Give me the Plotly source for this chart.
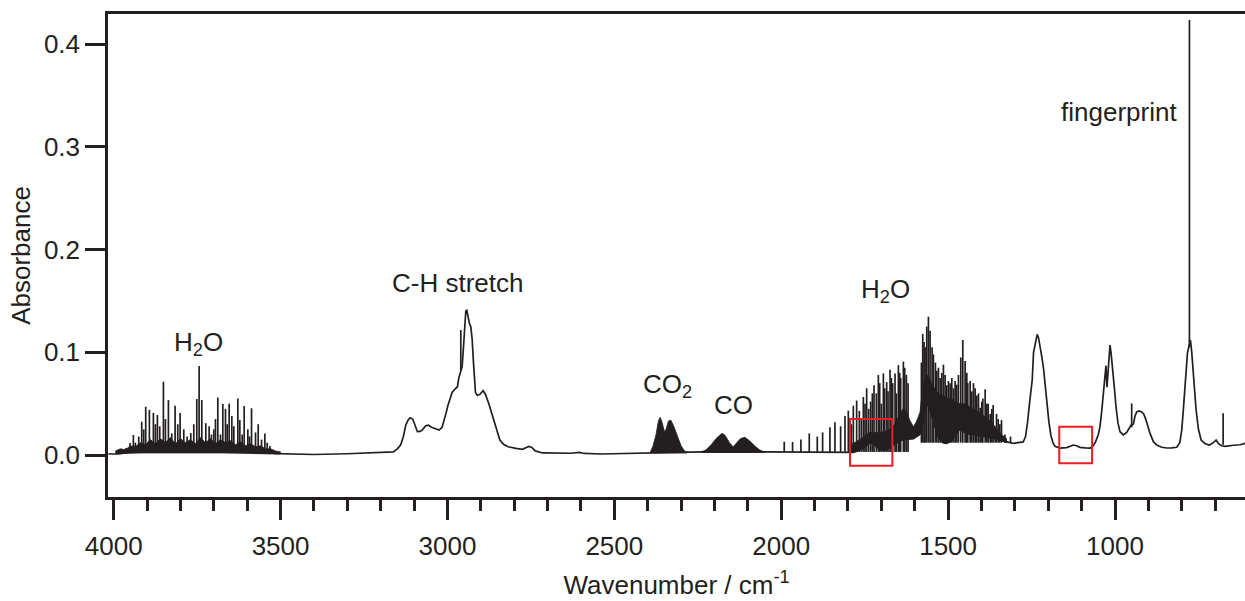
import plotly.graph_objects as go

# ---------------- data ----------------
# continuum / smooth spectrum, split by region
oh_wn = [4016, 3995, 3960, 3900, 3800, 3700, 3600, 3520, 3450, 3400, 3300, 3200]
oh_abs = [0.001, 0.001, 0.002, 0.003, 0.003, 0.003, 0.002, 0.0015, 0.001, 0.0005, 0.0012, 0.002]

ch_wn = [3162, 3150, 3140, 3132, 3125, 3118, 3112, 3104, 3097, 3090,
         3082, 3075, 3065, 3057, 3048, 3040, 3025, 3016, 3010, 3004,
         2999, 2992, 2986, 2978, 2970, 2966, 2962, 2956, 2952, 2948,
         2945, 2942, 2938, 2934, 2930, 2926, 2922, 2919, 2916, 2910,
         2903, 2893, 2886, 2876, 2867, 2858, 2850, 2843, 2832, 2818,
         2795, 2775, 2765, 2756, 2747, 2737]
ch_abs = [0.003, 0.006, 0.010, 0.018, 0.029, 0.034, 0.0363, 0.035, 0.028, 0.0227,
          0.023, 0.0245, 0.0285, 0.029, 0.027, 0.026, 0.0243, 0.027, 0.033, 0.041,
          0.0477, 0.056, 0.061, 0.064, 0.0665, 0.075, 0.080, 0.086, 0.105, 0.130,
          0.1402, 0.141, 0.132, 0.128, 0.125, 0.113, 0.090, 0.068, 0.061, 0.058,
          0.059, 0.0626, 0.059, 0.050, 0.0406, 0.030, 0.021, 0.0146, 0.0105, 0.008,
          0.0065, 0.0055, 0.007, 0.0083, 0.0073, 0.004]

mid_wn = [2715, 2680, 2630, 2605, 2590, 2540, 2450, 2395, 2285, 2240, 2045, 1900, 1800]
mid_abs = [0.002, 0.0016, 0.0017, 0.0025, 0.0015, 0.001, 0.0015, 0.002, 0.0025, 0.003, 0.003, 0.003, 0.003]

bend_wn = [1785, 1770, 1758, 1745, 1734, 1724, 1712, 1700, 1690, 1678,
           1665, 1650, 1635, 1604, 1585, 1576, 1568, 1560, 1550, 1540,
           1530, 1515, 1504, 1490, 1480, 1465, 1450, 1435, 1420, 1400,
           1385, 1370, 1355, 1340, 1315, 1305]
bend_abs = [0.0025, 0.004, 0.006, 0.009, 0.012, 0.011, 0.007, 0.0048, 0.0045, 0.0065,
            0.010, 0.013, 0.015, 0.016, 0.020, 0.030, 0.045, 0.050, 0.040, 0.028,
            0.018, 0.012, 0.0114, 0.014, 0.019, 0.025, 0.022, 0.020, 0.020, 0.018,
            0.018, 0.017, 0.016, 0.014, 0.012, 0.0114]

fp_wn = [1290, 1275, 1268, 1262, 1255, 1248, 1244, 1240, 1236, 1233,
         1229, 1224, 1219, 1214, 1209, 1204, 1198, 1192, 1186, 1180,
         1165, 1145, 1135, 1125, 1115, 1105, 1090, 1074, 1065, 1058,
         1050, 1045, 1040, 1035, 1032, 1029, 1027, 1024, 1021, 1017,
         1015, 1012, 1007, 1002, 997, 991, 985, 975, 965, 958,
         952, 945, 940, 935, 928, 920, 914, 908, 901, 895,
         885, 875, 860, 845, 830, 815, 806, 800, 795, 790,
         786, 783, 779, 774, 770, 767, 762, 757, 750, 742,
         730, 717, 705, 697, 690, 680, 670, 660, 645, 625,
         610]
fp_abs = [0.012, 0.0127, 0.018, 0.032, 0.0535, 0.073, 0.100, 0.108, 0.114, 0.1175,
          0.114, 0.106, 0.095, 0.084, 0.068, 0.050, 0.032, 0.019, 0.012, 0.0085,
          0.0068, 0.0072, 0.0085, 0.0097, 0.009, 0.0075, 0.007, 0.0068, 0.009, 0.013,
          0.020, 0.0276, 0.042, 0.060, 0.070, 0.085, 0.087, 0.066, 0.080, 0.103,
          0.107, 0.100, 0.0857, 0.066, 0.047, 0.031, 0.0227, 0.0195, 0.022, 0.026,
          0.029, 0.030, 0.038, 0.042, 0.043, 0.042, 0.040, 0.035, 0.027, 0.021,
          0.013, 0.0097, 0.0075, 0.0068, 0.007, 0.0075, 0.012, 0.0243, 0.045, 0.0665,
          0.090, 0.099, 0.105, 0.112, 0.100, 0.0857, 0.065, 0.0438, 0.025, 0.0146,
          0.011, 0.0097, 0.012, 0.0146, 0.011, 0.009, 0.0085, 0.009, 0.0095, 0.010,
          0.0114]

# unresolved rovibrational bands (upper / lower envelope)
band1_wn = [3995, 3980, 3965, 3950, 3935, 3920, 3905, 3890, 3875, 3860,
            3845, 3830, 3815, 3800, 3785, 3770, 3755, 3740, 3725, 3710,
            3695, 3680, 3665, 3650, 3635, 3620, 3605, 3590, 3575, 3560,
            3545, 3530, 3515, 3500]
band1_hi = [0.004, 0.006, 0.005, 0.009, 0.008, 0.012, 0.010, 0.015, 0.011, 0.016,
            0.012, 0.017, 0.011, 0.016, 0.012, 0.015, 0.011, 0.017, 0.012, 0.016,
            0.011, 0.015, 0.012, 0.014, 0.010, 0.013, 0.009, 0.011, 0.008, 0.009,
            0.006, 0.006, 0.004, 0.003]
band1_lo = [0.001, 0.001, 0.002, 0.002, 0.002, 0.002, 0.002, 0.002, 0.002, 0.002,
            0.002, 0.002, 0.002, 0.002, 0.002, 0.002, 0.002, 0.002, 0.002, 0.002,
            0.002, 0.002, 0.002, 0.002, 0.002, 0.002, 0.002, 0.002, 0.002, 0.002,
            0.002, 0.002, 0.001, 0.001]

co2_wn = [2392, 2385, 2375, 2368, 2363, 2358, 2350, 2345, 2338, 2331, 2322, 2310, 2300, 2290, 2282]
co2_hi = [0.003, 0.008, 0.020, 0.033, 0.0367, 0.033, 0.023, 0.025, 0.033, 0.034, 0.028, 0.017, 0.009, 0.004, 0.003]
co2_lo = [0.002] * 15

co_wn = [2240, 2225, 2210, 2195, 2180, 2175, 2168, 2155, 2144, 2135, 2122, 2109, 2095, 2080, 2065, 2050]
co_hi = [0.003, 0.005, 0.010, 0.016, 0.0205, 0.021, 0.019, 0.012, 0.008, 0.011, 0.016, 0.0172, 0.014, 0.009, 0.005, 0.003]
co_lo = [0.0025] * 16

band2_wn = [1800, 1780, 1760, 1745, 1734, 1720, 1705, 1690, 1675, 1660,
            1645, 1635, 1625, 1615, 1604, 1594, 1584, 1576, 1568, 1560,
            1550, 1540, 1530, 1515, 1504, 1490, 1480, 1465, 1450, 1435,
            1420, 1400, 1385, 1370, 1355, 1340, 1325]
band2_hi = [0.008, 0.012, 0.016, 0.020, 0.022, 0.022, 0.022, 0.023, 0.025, 0.030,
            0.040, 0.045, 0.042, 0.034, 0.0276, 0.033, 0.042, 0.066, 0.075, 0.078,
            0.070, 0.065, 0.060, 0.058, 0.055, 0.055, 0.052, 0.050, 0.050, 0.047,
            0.044, 0.040, 0.036, 0.032, 0.026, 0.020, 0.016]
band2_lo = [0.003, 0.003, 0.005, 0.009, 0.012, 0.010, 0.0055, 0.0045, 0.007, 0.010,
            0.013, 0.015, 0.016, 0.016, 0.016, 0.018, 0.020, 0.030, 0.045, 0.050,
            0.040, 0.028, 0.018, 0.012, 0.0114, 0.014, 0.019, 0.025, 0.022, 0.020,
            0.020, 0.018, 0.018, 0.017, 0.016, 0.014, 0.012]

# sharp lines (wavenumber, peak absorbance) with their base level
h2o_line_wn = [3963, 3951, 3941, 3935, 3925, 3916, 3910, 3904, 3893, 3881,
               3875, 3869, 3862, 3851, 3845, 3836, 3826, 3816, 3808, 3801,
               3790, 3780, 3769, 3760, 3751, 3744, 3736, 3724, 3714, 3707,
               3700, 3695, 3688, 3680, 3673, 3665, 3660, 3654, 3646, 3640,
               3628, 3622, 3615, 3609, 3598, 3593, 3587, 3575, 3567, 3557,
               3547, 3540, 3532]
h2o_line_top = [0.0068, 0.0117, 0.0195, 0.012, 0.018, 0.0324, 0.025, 0.047, 0.044, 0.041,
                0.030, 0.039, 0.028, 0.0714, 0.035, 0.0535, 0.021, 0.048, 0.030, 0.041,
                0.025, 0.018, 0.0214, 0.030, 0.0545, 0.0867, 0.0535, 0.031, 0.028, 0.020,
                0.025, 0.035, 0.056, 0.020, 0.0497, 0.045, 0.030, 0.050, 0.038, 0.028,
                0.055, 0.034, 0.020, 0.0477, 0.025, 0.018, 0.0455, 0.022, 0.030, 0.015,
                0.021, 0.012, 0.0088]
h2o_line_base = 0.002

ch_line_wn = [2960]
ch_line_top = [0.1217]
ch_line_base = 0.082

bend_line_wn = [1991, 1966, 1941, 1916, 1892, 1876, 1854, 1839, 1822, 1809,
                1799, 1790, 1784, 1774, 1766, 1760, 1754, 1749, 1744, 1738,
                1732, 1727, 1722, 1715, 1709, 1705, 1700, 1694, 1690, 1684,
                1680, 1674, 1670, 1666, 1659, 1655, 1649, 1645, 1642, 1634,
                1630, 1625, 1620]
bend_line_top = [0.013, 0.0126, 0.015, 0.021, 0.018, 0.022, 0.027, 0.032, 0.028, 0.038,
                 0.0432, 0.030, 0.048, 0.053, 0.043, 0.035, 0.0565, 0.050, 0.065, 0.045,
                 0.052, 0.060, 0.068, 0.060, 0.078, 0.070, 0.050, 0.0795, 0.065, 0.071,
                 0.062, 0.083, 0.075, 0.070, 0.0795, 0.060, 0.0875, 0.080, 0.075, 0.091,
                 0.085, 0.078, 0.070]
bend_line_base = 0.003

bend2_line_wn = [1580, 1576, 1572, 1569, 1564, 1559, 1554, 1548, 1544, 1538,
                 1534, 1529, 1524, 1519, 1514, 1509, 1504, 1499, 1494, 1489,
                 1484, 1479, 1474, 1469, 1462, 1456, 1449, 1444, 1441, 1434,
                 1429, 1424, 1419, 1414, 1409, 1404, 1399, 1396, 1389, 1384,
                 1380, 1374, 1369, 1365, 1359, 1355, 1350, 1345, 1340, 1330,
                 1313]
bend2_line_top = [0.090, 0.118, 0.110, 0.105, 0.125, 0.1347, 0.121, 0.105, 0.098, 0.090,
                  0.082, 0.085, 0.075, 0.080, 0.088, 0.078, 0.068, 0.072, 0.070, 0.075,
                  0.065, 0.072, 0.0685, 0.078, 0.095, 0.112, 0.0915, 0.080, 0.070, 0.072,
                  0.062, 0.070, 0.065, 0.058, 0.060, 0.046, 0.052, 0.055, 0.064, 0.050,
                  0.050, 0.040, 0.045, 0.0487, 0.027, 0.040, 0.035, 0.030, 0.034, 0.020,
                  0.018]
bend2_line_base = 0.012

fp_line_wn = [950, 777, 676]
fp_line_top = [0.0503, 0.4236, 0.0406]
fp_line_base = [0.027, 0.105, 0.010]

# annotations
label_text = ["H<sub>2</sub>O", "C-H stretch", "CO<sub>2</sub>", "CO", "H<sub>2</sub>O", "fingerprint"]
label_wn = [3747, 2970, 2340, 2144, 1689, 988]
label_abs = [0.109, 0.168, 0.068, 0.0487, 0.160, 0.334]

# highlighted regions (wn_left, wn_right, abs_low, abs_high)
box_wn0 = [1794, 1167]
box_wn1 = [1667, 1068.6]
box_y0 = [-0.0104, -0.0081]
box_y1 = [0.035, 0.0276]

# ---------------- figure ----------------
INK = "#231f20"
RED = "#ed1c24"
FONT = "Liberation Sans, Arial, sans-serif"
FS = 26

fig = go.Figure()

for bw, bh, bl in [(band1_wn, band1_hi, band1_lo), (co2_wn, co2_hi, co2_lo),
                   (co_wn, co_hi, co_lo), (band2_wn, band2_hi, band2_lo)]:
    fig.add_trace(go.Scatter(x=bw + bw[::-1], y=bh + bl[::-1], mode="lines",
                             fill="toself", fillcolor=INK,
                             line=dict(color=INK, width=0.8), hoverinfo="skip"))

cont_wn = oh_wn + ch_wn + mid_wn + bend_wn + fp_wn
cont_abs = oh_abs + ch_abs + mid_abs + bend_abs + fp_abs
fig.add_trace(go.Scatter(x=cont_wn, y=cont_abs, mode="lines",
                         line=dict(color=INK, width=1.7)))

sx, sy = [], []
groups = [(h2o_line_wn, h2o_line_top, [h2o_line_base] * len(h2o_line_wn)),
          (ch_line_wn, ch_line_top, [ch_line_base] * len(ch_line_wn)),
          (bend_line_wn, bend_line_top, [bend_line_base] * len(bend_line_wn)),
          (bend2_line_wn, bend2_line_top, [bend2_line_base] * len(bend2_line_wn)),
          (fp_line_wn, fp_line_top, fp_line_base)]
for gw, gt, gb in groups:
    for w, t, b in zip(gw, gt, gb):
        sx += [w, w, None]
        sy += [b, t, None]
fig.add_trace(go.Scatter(x=sx, y=sy, mode="lines", line=dict(color=INK, width=1.7)))

for t, x, y in zip(label_text, label_wn, label_abs):
    fig.add_annotation(x=x, y=y, text=t, showarrow=False, xanchor="center", yanchor="middle",
                       font=dict(family=FONT, size=FS, color=INK))

for a, b, c, d in zip(box_wn0, box_wn1, box_y0, box_y1):
    fig.add_shape(type="rect", x0=a, x1=b, y0=c, y1=d, xref="x", yref="y",
                  line=dict(color=RED, width=2))

fig.update_layout(
    width=1245, height=601,
    margin=dict(l=108, r=0, t=14, b=104),
    paper_bgcolor="white", plot_bgcolor="white",
    showlegend=False,
    font=dict(family=FONT, size=FS, color=INK),
    xaxis=dict(range=[4017, 610.5], showline=True, linecolor=INK, linewidth=2.5, mirror=True,
               ticks="outside", ticklen=20, tickwidth=2.5, tickcolor=INK,
               tick0=0, dtick=500, showgrid=False, zeroline=False,
               ticklabelstandoff=4,
               minor=dict(dtick=100, ticks="outside", ticklen=11, tickwidth=2.5,
                          tickcolor=INK, showgrid=False),
               tickfont=dict(family=FONT, size=FS, color=INK),
               title=dict(text="Wavenumber / cm<sup>-1</sup>", standoff=16,
                          font=dict(family=FONT, size=FS, color=INK))),
    yaxis=dict(range=[-0.0409, 0.4295], showline=True, linecolor=INK, linewidth=2.5,
               ticks="outside", ticklen=20, tickwidth=2.5, tickcolor=INK,
               tick0=0, dtick=0.1, tickformat=".1f", showgrid=False, zeroline=False,
               tickfont=dict(family=FONT, size=FS, color=INK),
               title=dict(text="Absorbance", standoff=6,
                          font=dict(family=FONT, size=FS, color=INK))),
)

fig.write_html("out.html")
